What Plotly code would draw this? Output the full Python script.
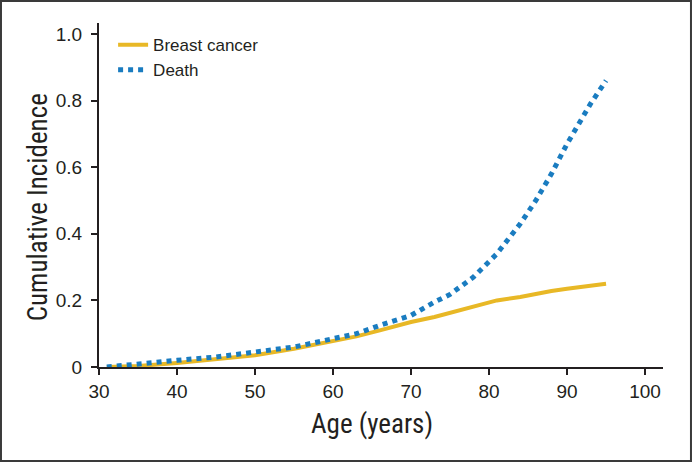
#######################################################
# Cumulative incidence of breast cancer and death     #
#######################################################

import plotly.graph_objects as go

# ages (years) at which the curves were read
age = [31, 35, 40, 45, 50, 55, 60, 63, 66, 70, 73, 75, 78, 81, 84, 86, 88, 90, 92, 93, 95]
# cumulative incidence, breast cancer
breast = [0.0, 0.003, 0.012, 0.022, 0.035, 0.055, 0.078, 0.092, 0.11, 0.135,
          0.15, 0.162, 0.18, 0.2, 0.21, 0.22, 0.228, 0.235, 0.24, 0.244, 0.25]
# cumulative incidence, death
death = [0.0, 0.01, 0.02, 0.03, 0.045, 0.06, 0.085, 0.1, 0.125, 0.155,
         0.195, 0.218, 0.27, 0.34, 0.43, 0.5, 0.58, 0.67, 0.75, 0.79, 0.86]

x_ticks = [30, 40, 50, 60, 70, 80, 90, 100]
y_ticks = [0, 0.2, 0.4, 0.6, 0.8, 1.0]
y_labels = ['0', '0.2', '0.4', '0.6', '0.8', '1.0']

tick_font = dict(family='Liberation Sans, Arial, sans-serif', size=19, color='#231f20')
title_font = dict(family='Liberation Sans Narrow, Roboto Condensed, Liberation Sans, sans-serif',
                  size=27, color='#231f20')

fig = go.Figure()
fig.add_trace(go.Scatter(x=age, y=breast, mode='lines', name='Breast cancer',
                         line=dict(color='#e8b826', width=4)))
fig.add_trace(go.Scatter(x=age, y=death, mode='lines', name='Death',
                         line=dict(color='#1a7cc0', width=5, dash='5px,5px')))

axis_common = dict(showgrid=False, zeroline=False, showline=True, linecolor='#231f20',
                   linewidth=2, ticks='outside', ticklen=6, tickwidth=2,
                   tickcolor='#231f20', tickfont=tick_font)
fig.update_xaxes(range=[30, 102.3], tickvals=x_ticks, **axis_common)
fig.update_yaxes(range=[0, 1.033], tickvals=y_ticks, ticktext=y_labels,
                 ticklabelstandoff=5, **axis_common)

# axis titles as annotations (x title centred on the 30-100 tick span)
fig.add_annotation(text='Age (years)', x=65, xref='x', y=-0.165, yref='paper',
                   yanchor='middle', showarrow=False, font=title_font)
fig.add_annotation(text='Cumulative Incidence', x=-0.108, xref='paper', y=0.48, yref='y',
                   textangle=-90, xanchor='center', showarrow=False, font=title_font)

# grey frame round the whole picture
fig.add_shape(type='rect', xref='paper', yref='paper',
              x0=-0.1738, x1=1.0496, y0=-0.2733, y1=1.064,
              line=dict(color='#3a3a3a', width=2))

fig.update_layout(width=692, height=462, plot_bgcolor='white', paper_bgcolor='white',
                  margin=dict(l=99, r=29, t=23, b=95),
                  legend=dict(x=0.025, y=0.988, xanchor='left', yanchor='top',
                              itemwidth=30, bgcolor='rgba(0,0,0,0)', tracegroupgap=0,
                              font=dict(family='Liberation Sans, Arial, sans-serif',
                                        size=17, color='#231f20')))
# page body margin off so the figure sits at the window corner
fig.write_html("out.html", config={'displayModeBar': False},
               post_script="document.body.style.margin='0';")
